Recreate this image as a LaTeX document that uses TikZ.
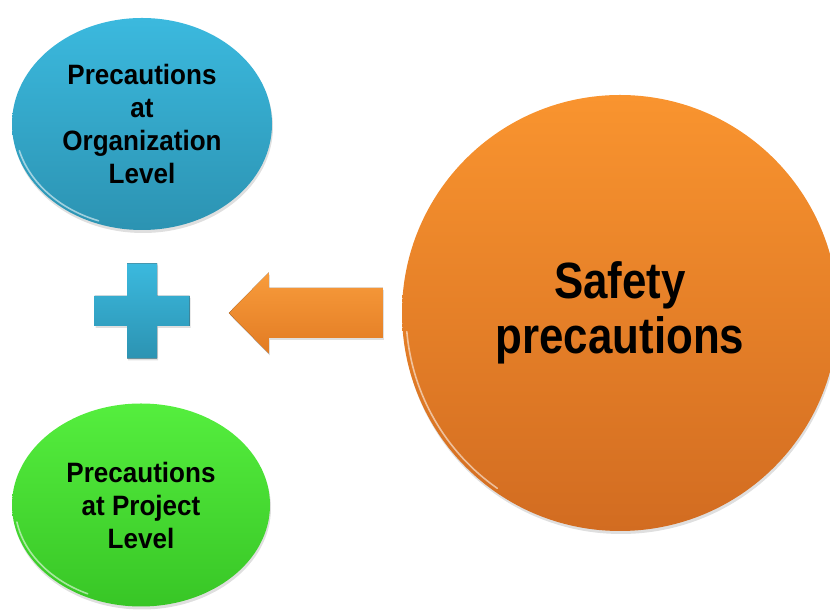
\documentclass[tikz,border=0pt]{standalone}
\usepackage{fontspec}
\usepackage{tikz}
\usetikzlibrary{shapes.geometric,shadows,positioning}
\newfontfamily\smallfont{Liberation Sans}[FakeStretch=0.93]
\newfontfamily\bigfont{Liberation Sans}[FakeStretch=0.86]
\definecolor{bluetop}{HTML}{3BB9DE}
\definecolor{bluebot}{HTML}{2C93B2}
\definecolor{greentop}{HTML}{55EE3E}
\definecolor{greenbot}{HTML}{38C626}
\definecolor{orangetop}{HTML}{F9942F}
\definecolor{orangebot}{HTML}{D26C21}
\definecolor{arrowtop}{HTML}{F89C3C}
\definecolor{arrowbot}{HTML}{E27B23}

\begin{document}
\begin{tikzpicture}[x=1pt,y=1pt,
    bubble/.style={ellipse,inner sep=0pt,align=center,
      drop shadow={opacity=0.25,shadow xshift=1pt,shadow yshift=-3pt}},
    smalltext/.style={font=\smallfont\bfseries\fontsize{28}{33}\selectfont},
    rim/.style={white,opacity=0.55,line width=1.6pt,line cap=round}]
  \useasboundingbox (0,0) rectangle (830,612);
  % three bubbles
  \node[bubble,smalltext,minimum width=260pt,minimum height=212pt,
    top color=bluetop,bottom color=bluebot] (org) at (142,488)
    {Precautions\\at\\Organization\\Level};
  \node[bubble,smalltext,minimum width=258pt,minimum height=203pt,
    top color=greentop,bottom color=greenbot] (proj) at (141,107)
    {Precautions\\at Project\\Level};
  \node[bubble,circle,minimum size=436pt,
    font=\bigfont\bfseries\fontsize{51}{55}\selectfont,
    top color=orangetop,bottom color=orangebot] (safety) at (620,299)
    {Safety\\precautions};
  \draw[rim] (org.center) ++(195:127 and 103) arc[start angle=195,end angle=250,x radius=127,y radius=103];
  \draw[rim] (proj.center) ++(190:126 and 98) arc[start angle=190,end angle=245,x radius=126,y radius=98];
  \draw[rim] (safety.center) ++(185:214 and 214) arc[start angle=185,end angle=235,radius=214];
  % plus sign
  \begin{scope}[shift={(142,301)}]
    \fill[top color=bluetop,bottom color=bluebot,
      drop shadow={opacity=0.25,shadow xshift=1pt,shadow yshift=-2pt}]
      (-15,-47.5) -- (15,-47.5) -- (15,-15) -- (47.5,-15) -- (47.5,15) -- (15,15)
      -- (15,47.5) -- (-15,47.5) -- (-15,15) -- (-47.5,15) -- (-47.5,-15) -- (-15,-15) -- cycle;
  \end{scope}
  % block arrow
  \coordinate (tail) at ([xshift=-19pt]safety.west);
  \coordinate (tip) at ([xshift=-173pt]safety.west);
  \fill[top color=arrowtop,bottom color=arrowbot,
    drop shadow={opacity=0.25,shadow xshift=1pt,shadow yshift=-2pt}]
    (tip) -- ++(40,40.5) -- ++(0,-15.5) -- ([yshift=25pt]tail) -- ([yshift=-25pt]tail)
    -- ([shift={(40,-25)}]tip) -- ++(0,-15.5) -- cycle;
\end{tikzpicture}
\end{document}
